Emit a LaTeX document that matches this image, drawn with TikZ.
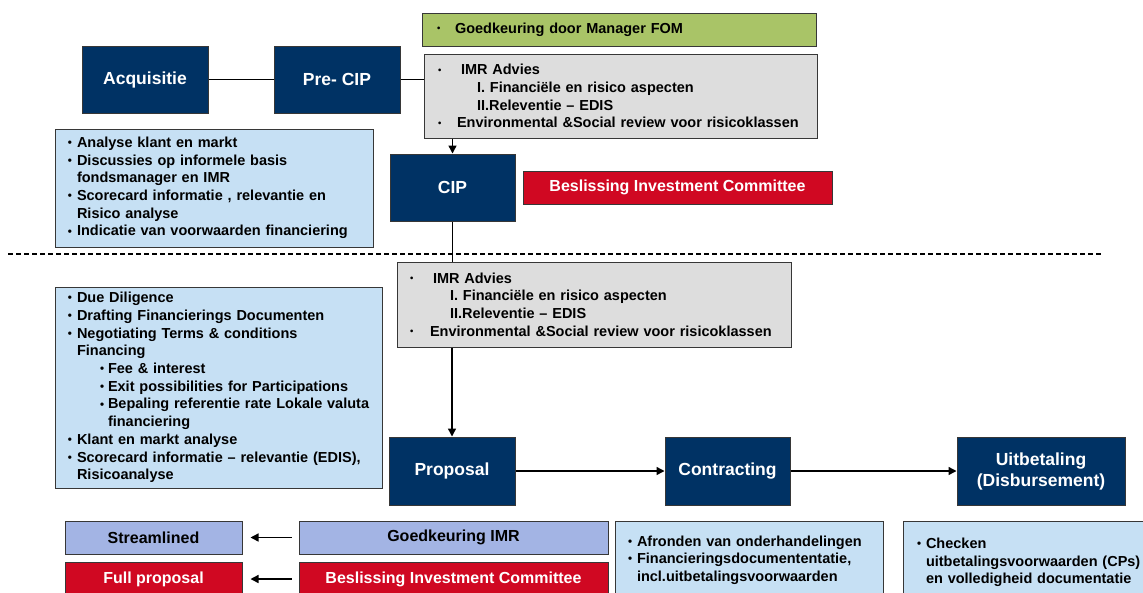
\documentclass[tikz,border=0pt]{standalone}
\usepackage{fontspec}
\usepackage{graphicx}
\setmainfont{Liberation Sans}
\usetikzlibrary{arrows.meta}
\definecolor{navy}{RGB}{0,50,100}
\definecolor{lightblue}{RGB}{198,224,244}
\definecolor{boxgray}{RGB}{221,221,221}
\definecolor{fomgreen}{RGB}{169,196,103}
\definecolor{icred}{RGB}{208,8,34}
\definecolor{periwinkle}{RGB}{163,180,228}
\definecolor{bordergray}{RGB}{55,55,55}
\newcommand\smbul{\raisebox{1.3pt}{\scalebox{0.65}{\textbullet}}}
\newcommand\mdbul{\raisebox{0.8pt}{\scalebox{0.8}{\textbullet}}}
\newcommand\li[3]{\hspace*{#1pt}\makebox[#2pt][l]{\smbul}#3}
\newcommand\lb[3]{\hspace*{#1pt}\makebox[#2pt][l]{\mdbul}#3}
\newcommand\lc[2]{\hspace*{#1pt}#2}
\begin{document}
\begin{tikzpicture}[x=1pt,y=-1pt,
  stage/.style={draw=bordergray, line width=1pt, fill=navy, text=white, minimum height=67pt, inner sep=0pt,
    font=\fontsize{17.5}{21}\selectfont\bfseries, align=center},
  listbox/.style={draw=bordergray, line width=1pt, inner xsep=0pt, inner ysep=0pt, align=left,
    font=\fontsize{14.5}{17.7}\selectfont\bfseries},
  barbox/.style={draw=bordergray, line width=1pt, inner sep=0pt, minimum height=33pt,
    font=\fontsize{16}{19}\selectfont\bfseries},
  conn/.style={line width=1.4pt, draw=black},
  arr/.style={conn, -{Triangle[length=8pt,width=8pt]}}
]
\useasboundingbox (0,0) rectangle (1143,592);
\clip (0,0) rectangle (1143,592);

% stages
\node[stage, minimum width=126pt] (acq) at (145,79.5) {Acquisitie};
\node[stage, minimum width=126pt] (precip) at (337,79.5) {Pre- CIP};
\node[stage, minimum width=125pt] (cip) at (452.5,187.5) {CIP};
\node[stage, minimum width=126pt, minimum height=68pt] (prop) at (452,471) {Proposal};
\node[stage, minimum width=125pt, minimum height=68pt] (contr) at (727.5,471) {Contracting};
\node[stage, minimum width=168pt, minimum height=68pt] (uitb) at (1041,471) {Uitbetaling\\(Disbursement)};

% green approval
\node[listbox, fill=fomgreen, text width=394pt, minimum height=33pt] (green) at (619,29.5)
  {\li{15}{18}{Goedkeuring door Manager FOM}};

% grey IMR boxes
\node[listbox, fill=boxgray, text width=393pt, minimum height=84pt] (grey1) at (620.5,96)
  {\li{14}{23}{IMR Advies}\\
   \lc{53}{I. Financiële en risico aspecten}\\
   \lc{53}{II.Releventie -- EDIS}\\
   \li{14}{19}{Environmental \&Social review voor risicoklassen}};
\node[listbox, fill=boxgray, text width=394pt, minimum height=85pt] (grey2) at (594,304.5)
  {\li{13}{23}{IMR Advies}\\
   \lc{53}{I. Financiële en risico aspecten}\\
   \lc{53}{II.Releventie -- EDIS}\\
   \li{13}{20}{Environmental \&Social review voor risicoklassen}};

% red decision top
\node[barbox, fill=icred, text=white, minimum width=309pt] (redtop) at (677.5,187.5) {Beslissing Investment Committee};

% blue lists
\node[listbox, fill=lightblue, text width=318pt, minimum height=118pt] (blue1) at (214,188)
  {\lb{13}{9}{Analyse klant en markt}\\
   \lb{13}{9}{Discussies op informele basis}\\
   \lc{22}{fondsmanager en IMR}\\
   \lb{13}{9}{Scorecard informatie , relevantie en}\\
   \lc{22}{Risico analyse}\\
   \lb{13}{9}{Indicatie van voorwaarden financiering}};
\node[listbox, fill=lightblue, text width=327pt, minimum height=201pt] (blue2) at (218.5,387.5)
  {\lb{13}{9}{Due Diligence}\\
   \lb{13}{9}{Drafting Financierings Documenten}\\
   \lb{13}{9}{Negotiating Terms \& conditions}\\
   \lc{22}{Financing}\\
   \lb{45}{8}{Fee \& interest}\\
   \lb{45}{8}{Exit possibilities for Participations}\\
   \lb{45}{8}{Bepaling referentie rate Lokale valuta}\\
   \lc{53}{financiering}\\
   \lb{13}{9}{Klant en markt analyse}\\
   \lb{13}{9}{Scorecard informatie -- relevantie (EDIS),}\\
   \lc{22}{Risicoanalyse}};

% bottom boxes
\node[barbox, fill=periwinkle, minimum width=177pt] (stream) at (153.5,537.5) {Streamlined};
\node[barbox, fill=icred, text=white, minimum width=177pt, minimum height=34pt] (full) at (153.5,579) {Full proposal};
\node[barbox, fill=periwinkle, minimum width=309pt] (gimr) at (453.5,537.5) {Goedkeuring IMR};
\node[barbox, fill=icred, text=white, minimum width=309pt, minimum height=34pt] (redbot) at (453.5,579) {Beslissing Investment Committee};

\node[listbox, fill=lightblue, text width=268pt, minimum height=78pt] (ctext) at (749,560)
  {\lb{13}{9}{Afronden van onderhandelingen}\\
   \lb{13}{9}{Financieringsdocumententatie,}\\
   \lc{22}{incl.uitbetalingsvoorwaarden}};
\node[listbox, fill=lightblue, text width=257pt, minimum height=83pt] (utext) at (1031.5,562.5)
  {\lb{14}{9}{Checken}\\
   \lc{23}{uitbetalingsvoorwaarden (CPs)}\\
   \lc{23}{en volledigheid documentatie}};

% dashed separator
\coordinate (dl) at (8,254);
\coordinate (dr) at (1102,254);
\draw[line width=1.2pt, dash pattern=on 5pt off 3pt] (dl) -- (dr);

% connectors
\draw[conn] (acq.east) -- (precip.west);
\draw[conn] (precip.east) -- (precip.east -| grey1.west);
\draw[arr] (cip.north |- grey1.south) -- (cip.north);
\draw[conn] (cip.south) -- (cip.south |- grey2.north);
\draw[arr] (prop.north |- grey2.south) -- (prop.north);
\draw[arr] (prop.east) -- (contr.west);
\draw[arr] (contr.east) -- (uitb.west);
\draw[arr, shorten <=7pt, shorten >=8pt] (gimr.west) -- (stream.east);
\draw[arr, shorten <=7pt, shorten >=8pt] (redbot.west) -- (full.east);
\end{tikzpicture}
\end{document}
